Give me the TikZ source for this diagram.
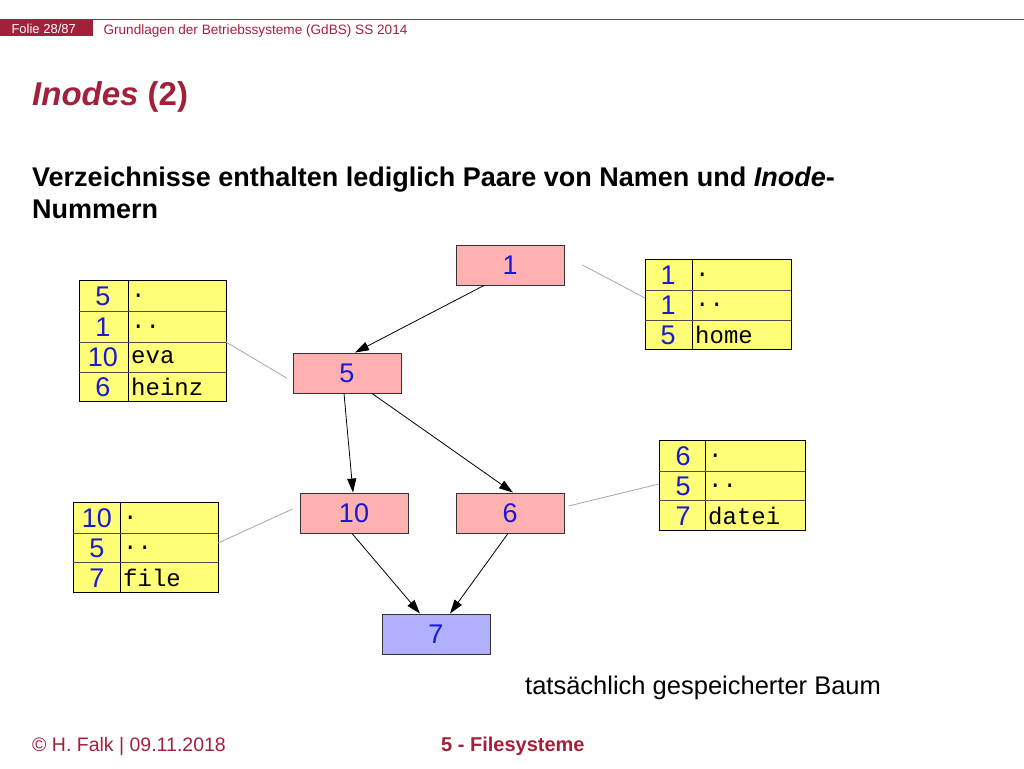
\documentclass[tikz,border=0pt]{standalone}
\usepackage{fontspec}
\setmainfont{Liberation Sans}
\newfontfamily\monof{Liberation Mono}
\usetikzlibrary{arrows.meta}
\definecolor{dred}{HTML}{A3203A}
\definecolor{pinkb}{HTML}{FFB0B0}
\definecolor{blueb}{HTML}{B0B0FF}
\definecolor{yel}{HTML}{FFFF77}
\definecolor{numb}{HTML}{1A1AD0}
\tikzset{
 ibox/.style={draw=black!80,line width=0.9pt,minimum width=108pt,minimum height=40pt,inner sep=0pt,font=\fontsize{27}{27}\selectfont,text=numb},
 arr/.style={-{Triangle[length=14pt,width=9pt]},line width=0.8pt},
 gline/.style={draw=black!35,line width=0.8pt},
 cell/.style={font=\fontsize{27}{27}\selectfont,text=numb},
 mcell/.style={font=\monof\fontsize{24}{24}\selectfont,anchor=west,inner sep=1pt}
}
\begin{document}
\begin{tikzpicture}[x=1pt,y=-1pt]
\useasboundingbox (0,0) rectangle (1024,768);
% header
\draw[dred,line width=1pt] (0,20) -- (1024,20);
\fill[dred] (0,20) rectangle (93,36);
\node[anchor=west,text=white,font=\fontsize{13}{13}\selectfont] (folie) at (8,29) {Folie 28/87};
\node[anchor=west,text=dred,font=\fontsize{13.6}{13.6}\selectfont] (hdr) at (100,31) {Grundlagen der Betriebssysteme (GdBS) SS 2014};
\node[anchor=west,text=dred,font=\bfseries\fontsize{33}{33}\selectfont,inner sep=0pt] (title) at (32,97) {\textit{Inodes} (2)};
\node[anchor=north west,align=left,font=\bfseries\fontsize{27}{32}\selectfont,inner sep=0pt] (sub) at (32,167) {Verzeichnisse enthalten lediglich Paare von Namen und \textit{Inode}-\\Nummern};
% T1
\fill[yel] (79,280) rectangle (226,401);
\draw[line width=0.9pt] (79,280) rectangle (226,401) (128,280) -- (128,401);
\foreach \y in {311,342,372} \draw[black!70,line width=0.8pt] (79,\y) -- (226,\y);
\node[cell] (a1) at (103,296) {5};\node[mcell] (b1) at (130,296) {.};
\node[cell] (a2) at (103,327) {1};\node[mcell] (b2) at (130,327) {..};
\node[cell] (a3) at (103,357) {10};\node[mcell] (b3) at (130,357) {eva};
\node[cell] (a4) at (103,387) {6};\node[mcell] (b4) at (130,387) {heinz};
\coordinate (t1) at (226,342);
% T2
\fill[yel] (645,259) rectangle (791,349);
\draw[line width=0.9pt] (645,259) rectangle (791,349) (692,259) -- (692,349);
\foreach \y in {290,320} \draw[black!70,line width=0.8pt] (645,\y) -- (791,\y);
\node[cell] (c1) at (668,275) {1};\node[mcell] (d1) at (694,275) {.};
\node[cell] (c2) at (668,305) {1};\node[mcell] (d2) at (694,305) {..};
\node[cell] (c3) at (668,335) {5};\node[mcell] (d3) at (694,335) {home};
\coordinate (t2) at (645,298);
% T3
\fill[yel] (659,440) rectangle (805,530);
\draw[line width=0.9pt] (659,440) rectangle (805,530) (705,440) -- (705,530);
\foreach \y in {471,500} \draw[black!70,line width=0.8pt] (659,\y) -- (805,\y);
\node[cell] (e1) at (683,456) {6};\node[mcell] (f1) at (707,456) {.};
\node[cell] (e2) at (683,486) {5};\node[mcell] (f2) at (707,486) {..};
\node[cell] (e3) at (683,516) {7};\node[mcell] (f3) at (707,516) {datei};
\coordinate (t3) at (659,484);
% T4
\fill[yel] (73,502) rectangle (218,592);
\draw[line width=0.9pt] (73,502) rectangle (218,592) (120,502) -- (120,592);
\foreach \y in {533,562} \draw[black!70,line width=0.8pt] (73,\y) -- (218,\y);
\node[cell] (g1) at (97,518) {10};\node[mcell] (h1) at (122,518) {.};
\node[cell] (g2) at (97,548) {5};\node[mcell] (h2) at (122,548) {..};
\node[cell] (g3) at (97,578) {7};\node[mcell] (h3) at (122,578) {file};
\coordinate (t4) at (218,543);
% inode boxes
\node[ibox,fill=pinkb] (n1) at (510,265) {1};
\node[ibox,fill=pinkb] (n5) at (347,373) {5};
\node[ibox,fill=pinkb] (n10) at (354,513) {10};
\node[ibox,fill=pinkb] (n6) at (510,513) {6};
\node[ibox,fill=blueb] (n7) at (436,634) {7};
% arrows
\draw[arr] ([xshift=-26pt]n1.south) -- ([xshift=8pt]n5.north);
\draw[arr] ([xshift=-3pt]n5.south) -- ([xshift=-1pt]n10.north);
\draw[arr] ([xshift=25pt]n5.south) -- ([xshift=3pt]n6.north);
\draw[arr] ([xshift=-2pt]n10.south) -- ([xshift=-16pt]n7.north);
\draw[arr] ([xshift=-2pt]n6.south) -- ([xshift=14pt]n7.north);
% gray links
\draw[gline] (t1) -- ([xshift=-6pt,yshift=-5pt]n5.west);
\draw[gline] ([xshift=18pt]n1.east) -- (t2);
\draw[gline] ([xshift=4pt,yshift=7pt]n6.east) -- (t3);
\draw[gline] (t4) -- ([xshift=-7pt,yshift=4pt]n10.west);
% caption and footer
\node[anchor=west,font=\fontsize{25.5}{25.5}\selectfont,inner sep=0pt] (cap) at (525,688) {tatsächlich gespeicherter Baum};
\node[anchor=west,text=dred,font=\fontsize{19.5}{19.5}\selectfont,inner sep=0pt] (foot) at (32,746) {© H. Falk | 09.11.2018};
\node[anchor=west,text=dred,font=\bfseries\fontsize{20}{20}\selectfont,inner sep=0pt] (fs) at (441,746) {5 - Filesysteme};
\end{tikzpicture}
\end{document}
